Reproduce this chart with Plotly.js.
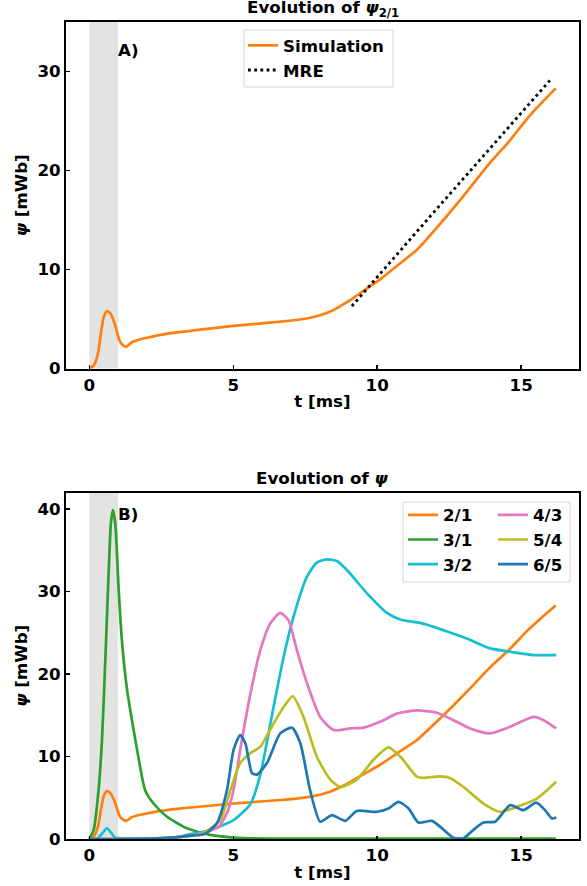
<!DOCTYPE html>
<html>
<head>
<meta charset="utf-8">
<script src="https://cdn.plot.ly/plotly-3.0.1.min.js"></script>
<style>html,body{margin:0;padding:0;background:#fff;} #chart{width:587px;height:886px;}</style>
</head>
<body>
<div id="chart"></div>
<script>
// ---------- data ----------
const shadeInterval = [0, 1];

// psi_2/1 simulation (shared by panels A and B)
const t21   = [0, 0.15, 0.3, 0.4, 0.5, 0.61, 0.72, 0.84, 0.95, 1.05, 1.15, 1.28, 1.45, 1.66, 2.0, 2.47, 3.04, 3.62, 4.55, 5.01, 5.59, 6.52, 7.2, 7.79, 8.25, 8.6, 9.06, 9.5, 10.1, 10.7, 11.38, 12.3, 12.88, 13.4, 13.92, 14.6, 15.2, 15.7, 16.2];
const psi21 = [0, 0.3, 1.5, 3.5, 5.2, 5.8, 5.6, 4.9, 3.8, 2.8, 2.4, 2.2, 2.6, 2.85, 3.1, 3.4, 3.65, 3.85, 4.15, 4.3, 4.45, 4.7, 4.9, 5.2, 5.6, 6.1, 6.9, 7.8, 9.0, 10.4, 12.0, 15.0, 17.0, 18.9, 20.8, 23.0, 25.2, 26.8, 28.3];

// MRE prediction
const tMRE   = [9.12, 10.1, 12.0, 14.0, 16.03];
const psiMRE = [6.3, 9.6, 15.9, 22.5, 29.2];

// 3/1
const t31   = [0, 0.15, 0.32, 0.44, 0.56, 0.67, 0.75, 0.82, 0.9, 1.02, 1.13, 1.31, 1.5, 1.66, 1.94, 2.23, 2.7, 3.39, 4.2, 5.35, 7, 9, 11, 13, 15, 16.2];
const psi31 = [0, 1.1, 5.9, 12, 22.1, 32.2, 38.3, 39.9, 38.3, 30.2, 24.1, 18.1, 14, 10.8, 5.9, 4.3, 2.7, 1.3, 0.5, 0.1, 0.05, 0.05, 0.05, 0.05, 0.05, 0.05];

// 3/2
const t32   = [0, 0.3, 0.45, 0.61, 0.75, 0.9, 1.2, 2, 3, 3.4, 4.2, 5.01, 5.59, 5.94, 6.4, 6.75, 7.09, 7.56, 7.9, 8.25, 8.6, 8.95, 9.64, 10.34, 10.8, 11.6, 12.3, 13.11, 13.92, 14.62, 15.43, 16.22];
const psi32 = [0, 0.1, 0.7, 1.3, 0.8, 0.15, 0.05, 0.05, 0.2, 0.5, 1.1, 2.3, 4.2, 7.8, 16.0, 22.1, 26.9, 31.8, 33.5, 33.9, 33.7, 32.6, 29.8, 27.4, 26.6, 26.1, 25.3, 24.3, 23.1, 22.7, 22.3, 22.3];

// 4/3
const t43   = [0, 1, 2, 3, 3.5, 4.0, 4.5, 4.8, 5.0, 5.3, 5.59, 5.94, 6.28, 6.63, 6.92, 7.21, 7.56, 8.02, 8.49, 9.06, 9.52, 10.22, 10.68, 11.38, 12.07, 12.65, 13.23, 13.92, 14.62, 15.43, 15.78, 16.22];
const psi43 = [0, 0, 0.05, 0.2, 0.4, 0.8, 1.5, 3.3, 5.8, 12, 17.5, 22.9, 26.1, 27.4, 26.5, 22.9, 18.9, 14.8, 13.2, 13.4, 13.5, 14.4, 15.2, 15.6, 15.3, 14.4, 13.4, 12.8, 13.6, 14.8, 14.4, 13.4];

// 5/4
const t54   = [0, 1, 2, 3, 3.5, 4.0, 4.55, 4.9, 5.24, 5.59, 5.94, 6.4, 6.75, 7.07, 7.44, 7.9, 8.37, 8.72, 9.29, 9.87, 10.39, 10.8, 11.38, 11.6, 12.19, 12.53, 13.0, 13.69, 14.27, 14.85, 15.54, 16.22];
const psi54 = [0, 0, 0.05, 0.2, 0.4, 0.8, 2.3, 5.9, 9.2, 10.4, 11.2, 14.0, 16.0, 17.3, 14.8, 10.0, 7.2, 6.3, 7.2, 9.6, 11.1, 10.0, 7.55, 7.4, 7.6, 7.4, 6.3, 4.3, 3.3, 3.9, 4.9, 6.95];

// 6/5
const t65   = [0, 1, 2, 3, 3.5, 4.0, 4.43, 4.78, 5.01, 5.24, 5.42, 5.65, 5.82, 6.17, 6.63, 7.04, 7.33, 7.67, 8.02, 8.43, 8.89, 9.29, 9.99, 10.39, 10.74, 11.09, 11.43, 11.9, 12.25, 12.65, 13.0, 13.34, 13.69, 14.1, 14.62, 15.08, 15.52, 15.83, 16.07, 16.22];
const psi65 = [0, 0, 0.05, 0.2, 0.4, 0.6, 1.9, 5.9, 10.8, 12.6, 11.6, 8.0, 7.8, 9.2, 12.8, 13.5, 11.6, 5.9, 2.1, 2.9, 2.2, 3.4, 3.3, 3.7, 4.5, 3.7, 2.0, 2.2, 1.3, 0.16, 0.1, 1.1, 2.0, 2.1, 4.1, 3.5, 4.4, 3.5, 2.5, 2.6];

// ---------- styling ----------
const FONT = 'DejaVu Sans';
const FS = 16.67;
const C = {o:'#ff7f0e', g:'#2ca02c', c:'#17becf', p:'#e377c2', y:'#bcbd22', b:'#1f77b4'};
const LW = 2.7;
const W = 587, H = 886;
const px = v => v / W;
const py = v => 1 - v / H;

function line(x, y, name, color, xa, ya, legend, group) {
  return {x, y, name, type:'scatter', mode:'lines', xaxis:xa, yaxis:ya,
          line:{color, width:LW, shape:'spline', smoothing:0.6},
          legend, legendgroup:group, hoverinfo:'skip'};
}

const traces = [
  line(t21, psi21, 'Simulation', C.o, 'x', 'y', 'legend', 'a1'),
  {x:tMRE, y:psiMRE, name:'MRE', type:'scatter', mode:'lines', xaxis:'x', yaxis:'y',
   line:{color:'#000', width:2.8, dash:'2.8px,3.4px'}, legend:'legend', legendgroup:'a2'},
  line(t21, psi21, '2/1', C.o, 'x2', 'y2', 'legend2', 'b1'),
  line(t31, psi31, '3/1', C.g, 'x2', 'y2', 'legend2', 'b2'),
  line(t32, psi32, '3/2', C.c, 'x2', 'y2', 'legend2', 'b3'),
  line(t43, psi43, '4/3', C.p, 'x2', 'y2', 'legend3', 'b4'),
  line(t54, psi54, '5/4', C.y, 'x2', 'y2', 'legend3', 'b5'),
  line(t65, psi65, '6/5', C.b, 'x2', 'y2', 'legend3', 'b6'),
];

const tickFont = {family:FONT, size:FS, color:'#000', weight:'bold'};
const titleFont = {family:FONT, size:FS, color:'#000', weight:'bold'};
const xRange = [-0.81, 17.01];
const xDom = [px(66), px(579)];

function xax(anchor) {
  return {domain:xDom, range:xRange, anchor, showgrid:false, zeroline:false,
    showline:true, linecolor:'#000', linewidth:2, mirror:true,
    ticks:'inside', ticklen:3.5, tickwidth:1.5, tickcolor:'#000',
    tickvals:[0,5,10,15], tickfont:tickFont,
    title:{text:'<b>t [ms]</b>', font:titleFont, standoff:2}};
}
function yax(anchor, dom, range, vals) {
  return {domain:dom, range, anchor, showgrid:false, zeroline:false,
    showline:true, linecolor:'#000', linewidth:2, mirror:true,
    ticks:'inside', ticklen:3.5, tickwidth:1.5, tickcolor:'#000',
    tickvals:vals, tickfont:tickFont,
    title:{text:'<b><i>ψ</i> [mWb]</b>', font:titleFont, standoff:6}};
}

const legFont = {family:FONT, size:FS, color:'#000', weight:'bold'};
function leg(x, y) {
  return {x, y, xanchor:'left', yanchor:'top', bgcolor:'rgba(0,0,0,0)', borderwidth:0,
          font:legFont, traceorder:'grouped', tracegroupgap:0, itemclick:false};
}

const layout = {
  width:W, height:H, margin:{l:0, r:0, t:0, b:0},
  paper_bgcolor:'#fff', plot_bgcolor:'#fff', showlegend:true,
  xaxis: xax('y'),
  yaxis: yax('x', [py(368.5), py(22)], [0, 35], [0,10,20,30]),
  xaxis2: xax('y2'),
  yaxis2: yax('x2', [py(839), py(492.5)], [0, 42], [0,10,20,30,40]),
  legend: leg(px(243), py(28)),
  legend2: leg(px(403), py(497.5)),
  legend3: leg(px(493), py(497.5)),
  shapes: [
    {type:'rect', xref:'x', yref:'y domain', x0:shadeInterval[0], x1:shadeInterval[1], y0:0, y1:1,
     fillcolor:'#e3e3e3', line:{width:0}, layer:'below'},
    {type:'rect', xref:'x2', yref:'y2 domain', x0:shadeInterval[0], x1:shadeInterval[1], y0:0, y1:1,
     fillcolor:'#e3e3e3', line:{width:0}, layer:'below'},
    {type:'rect', xref:'paper', yref:'paper', x0:px(244), x1:px(393), y0:py(87), y1:py(30),
     fillcolor:'rgba(255,255,255,0.8)', line:{color:'#d6d6d6', width:1}, layer:'above'},
    {type:'rect', xref:'paper', yref:'paper', x0:px(403), x1:px(570), y0:py(582), y1:py(502),
     fillcolor:'rgba(255,255,255,0.8)', line:{color:'#d6d6d6', width:1}, layer:'above'},
  ],
  annotations: [
    {text:'<b>Evolution of <i>ψ</i><sub>2/1</sub></b>', xref:'paper', yref:'paper', x:px(322.5), y:py(21.5),
     xanchor:'center', yanchor:'bottom', showarrow:false, font:titleFont},
    {text:'<b>Evolution of <i>ψ</i></b>', xref:'paper', yref:'paper', x:px(322.5), y:py(479),
     xanchor:'center', yanchor:'middle', showarrow:false, font:titleFont},
    {text:'<b>A)</b>', xref:'x domain', yref:'y domain', x:(116-66)/513, y:(368.5-51)/346.5,
     xanchor:'left', yanchor:'middle', showarrow:false, font:titleFont},
    {text:'<b>B)</b>', xref:'x2 domain', yref:'y2 domain', x:(116-66)/513, y:(839-514)/346.5,
     xanchor:'left', yanchor:'middle', showarrow:false, font:titleFont},
  ]
};

Plotly.newPlot('chart', traces, layout, {staticPlot:true, displayModeBar:false});
</script>
</body>
</html>
